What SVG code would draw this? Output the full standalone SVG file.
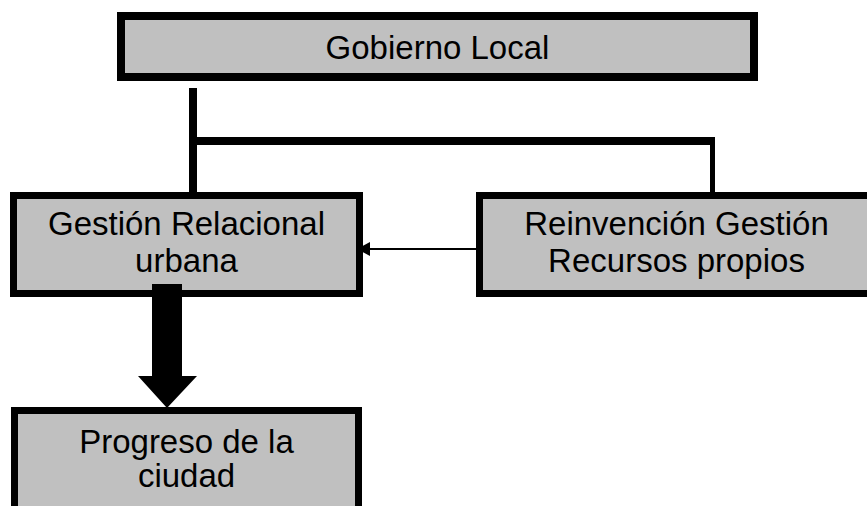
<svg xmlns="http://www.w3.org/2000/svg" width="867" height="506" viewBox="0 0 867 506">
<style>
.box{fill:#c0c0c0;stroke:#000;stroke-width:7}
.t{font-family:"Liberation Sans",Arial,sans-serif;font-size:33px;fill:#000;text-anchor:middle}
</style>
<defs>
<marker id="ah" markerUnits="userSpaceOnUse" markerWidth="14" markerHeight="14" refX="13" refY="7" orient="auto">
<path d="M0,0 L13,7 L0,14 Z" fill="#000"/>
</marker>
</defs>
<rect width="867" height="506" fill="#fff"/>
<g id="connectors">
<line x1="193" y1="88" x2="193" y2="192" stroke="#000" stroke-width="8"/>
<line x1="189" y1="141" x2="712" y2="141" stroke="#000" stroke-width="8"/>
<line x1="712.5" y1="137" x2="712.5" y2="192" stroke="#000" stroke-width="5"/>
<line x1="476" y1="249" x2="357" y2="249" stroke="#000" stroke-width="2" marker-end="url(#ah)"/>
</g>
<g id="gobierno">
<rect class="box" x="121" y="16" width="633" height="61" style="stroke-width:8"/>
<text class="t" x="437.5" y="59">Gobierno Local</text>
</g>
<g id="gestion">
<rect class="box" x="13.5" y="195.5" width="346" height="98"/>
<text class="t" x="186.5" y="235">Gestión Relacional</text>
<text class="t" x="186.5" y="272">urbana</text>
</g>
<g id="reinvencion">
<rect class="box" x="479.5" y="195.5" width="400" height="98"/>
<text class="t" x="676.5" y="235">Reinvención Gestión</text>
<text class="t" x="676.5" y="272">Recursos propios</text>
</g>
<g id="progreso">
<rect class="box" x="14.5" y="410.5" width="344" height="130"/>
<text class="t" x="186.5" y="453">Progreso de la</text>
<text class="t" x="186.5" y="487">ciudad</text>
</g>
<g id="block-arrow">
<polygon points="152,284 182,284 182,376 197,376 167,408 138,376 152,376" fill="#000"/>
</g>
</svg>
